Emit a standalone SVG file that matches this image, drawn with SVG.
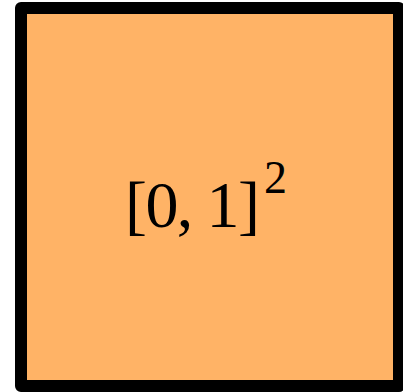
<svg xmlns="http://www.w3.org/2000/svg" width="403" height="392" viewBox="0 0 403 392">
<style>
.box{fill:#FFB366;stroke:#000;stroke-width:12;stroke-linejoin:round}
.t{font-family:"Liberation Serif","DejaVu Serif",serif;fill:#000;font-size:66px}
.sup{font-size:46px}
</style>
<g id="node-square">
<rect class="box" x="21" y="8" width="378" height="378"/>
<text class="t" x="125" y="227" letter-spacing="-1.6">[0, 1]<tspan class="sup" x="264" y="193" letter-spacing="0">2</tspan></text>
</g>
</svg>
